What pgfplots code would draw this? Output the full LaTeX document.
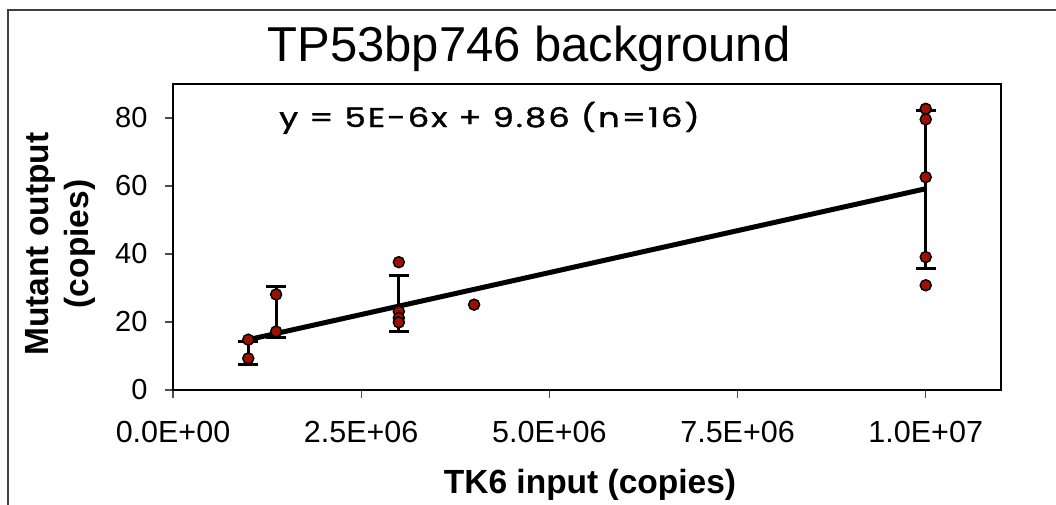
\documentclass[border=0pt]{standalone}
\usepackage{fontspec}
\setmainfont{Liberation Sans}
\newfontfamily\eqfont[LetterSpace=6, FakeBold=1.2]{Poppins}
\usepackage{pgfplots}
\pgfplotsset{compat=1.18}
\definecolor{mred}{RGB}{160,16,0}
\definecolor{framegray}{RGB}{64,64,64}
\begin{document}
\begin{tikzpicture}
\useasboundingbox (-173pt,-114pt) rectangle (883pt,390pt);
\begin{axis}[
 at={(0pt,0pt)}, anchor=south west,
 scale only axis, width=828pt, height=306pt,
 xmin=0, xmax=1.1e7, ymin=0, ymax=90,
 axis line style={black, line width=2.5pt},
 xtick={0,2500000,5000000,7500000,10000000},
 xticklabels={0.0E+00,2.5E+06,5.0E+06,7.5E+06,1.0E+07},
 ytick={0,20,40,60,80}, yticklabels={0,20,40,60,80},
 tick align=outside, xtick pos=bottom, ytick pos=left,
 major tick length=8pt,
 tick style={black!70, line width=1.2pt},
 ticklabel style={font=\fontsize{29}{34}\selectfont},
 xticklabel style={yshift=-20pt, font=\fontsize{30.5}{35}\selectfont},
 yticklabel style={xshift=-14pt},
 scaled x ticks=false,
 clip=false,
]
\addplot[draw=none, mark=none,
  error bars/.cd, y dir=both, y explicit,
  error bar style={black, line width=3pt},
  error mark options={black, line width=3pt, mark size=10pt, rotate=90}]
 coordinates {
 (1000000,10.95) +- (0,3.35)
 (1370000,22.8) +- (0,7.5)
 (3000000,25.4) +- (0,8.3)
 (10000000,59.0) +- (0,23.3)
 };
\addplot[black, line width=5pt] coordinates {(1000000,14.8) (10000000,59.2)};
\addplot[only marks, mark=*, mark size=5.5pt, mark options={fill=mred, draw=black, line width=1.5pt}]
 coordinates {
 (1000000,14.8) (1000000,9.3)
 (1370000,28.1) (1370000,17.2)
 (3000000,37.6) (3000000,23.1) (3000000,21.2) (3000000,19.9)
 (4000000,25.1)
 (10000000,82.7) (10000000,79.6) (10000000,62.6) (10000000,39.1) (10000000,30.8)
 };
\end{axis}
\node[anchor=base, inner sep=0] at (356pt,328pt) {\fontsize{49}{56}\selectfont TP53bp746 background};
\node[anchor=base west, inner sep=0] at (106pt,263pt) {\scalebox{1.25}[1]{\eqfont\fontsize{27}{30}\selectfont y = 5E-6x + 9.86 (n=16)}};
\node[rotate=90, align=center, font=\bfseries\fontsize{33.5}{40}\selectfont] at (-113pt,146pt) {Mutant output\\(copies)};
\node[font=\bfseries\fontsize{33.5}{40}\selectfont] at (417pt,-95pt) {TK6 input (copies)};
\draw[framegray, line width=1.5pt] (-165pt,-130pt) -- (-165pt,380pt) -- (900pt,380pt);
\end{tikzpicture}
\end{document}
